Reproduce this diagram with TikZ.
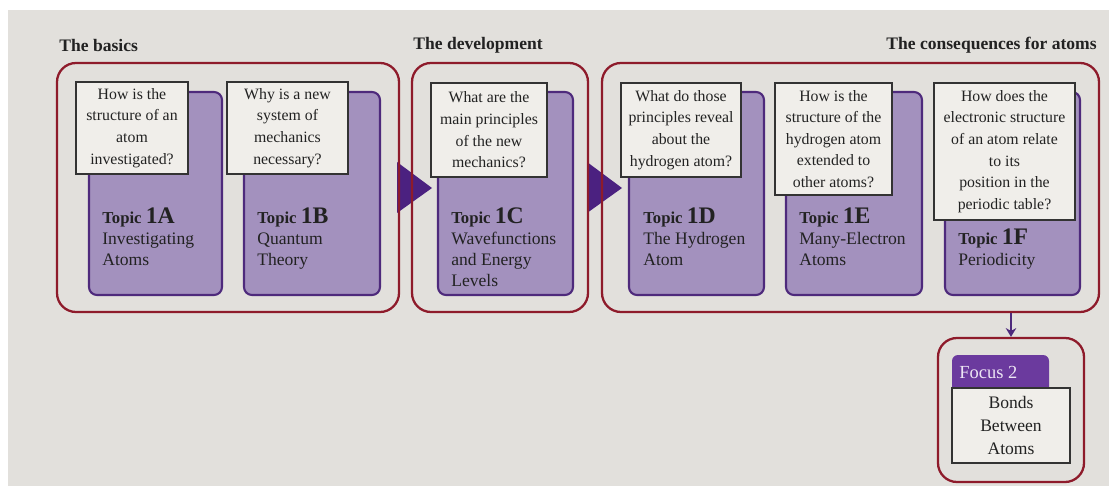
\documentclass[tikz,border=0pt]{standalone}
\usepackage{fontspec}
\setmainfont{Liberation Serif}
\usetikzlibrary{arrows.meta}
\definecolor{bg}{HTML}{E2E0DC}
\definecolor{groupred}{HTML}{8E1B2B}
\definecolor{topicfill}{HTML}{A391BE}
\definecolor{topicdraw}{HTML}{4E2A7C}
\definecolor{tricol}{HTML}{4B2180}
\definecolor{qfill}{HTML}{F0EEEA}
\definecolor{qdraw}{HTML}{333333}
\definecolor{focustab}{HTML}{6B3A9E}
\definecolor{focustext}{HTML}{EDE6F4}
\definecolor{txt}{HTML}{222222}
\newcommand\tlabel[1]{{\bfseries\fontsize{9.5}{12}\selectfont Topic \fontsize{13.5}{12}\selectfont #1}}
\begin{document}
\begin{tikzpicture}[x=0.02cm,y=-0.02cm,
  group/.style={draw=groupred, line width=1.3pt, rounded corners=0.38cm, rectangle, inner sep=0pt},
  topicbox/.style={draw=topicdraw, fill=topicfill, line width=1.2pt, rounded corners=0.16cm, rectangle, inner sep=0pt},
  qbox/.style={draw=qdraw, fill=qfill, line width=0.6pt, rectangle, align=center, inner sep=0pt,
    font=\fontsize{9}{12.3}\selectfont, text=txt},
  topictext/.style={align=left, anchor=north west, inner sep=0pt, font=\fontsize{10}{12}\selectfont, text=txt},
  heading/.style={font=\bfseries\fontsize{10}{12}\selectfont, inner sep=0pt, text=txt},
  tri/.style={fill=tricol},
  link/.style={draw=topicdraw, line width=0.8pt, -{Stealth[length=5pt,width=6pt]}}]
\useasboundingbox (0,0) rectangle (1109,486);
\fill[white] (0,0) rectangle (1109,486);
\fill[bg] (8,10) rectangle (1109,486);

% headings
\node[heading, anchor=west] (h1) at (59,45) {The basics};
\node[heading, anchor=west] (h2) at (413,45) {The development};
\node[heading, anchor=east] (h3) at (1097,45) {The consequences for atoms};

% triangles between groups
\fill[tri] (397,162) -- (432,188) -- (397,213) -- cycle;
\fill[tri] (587,162) -- (622,188) -- (587,213) -- cycle;

% groups
\node[group, minimum width=342*0.02cm, minimum height=249*0.02cm] (g1) at (228,187.5) {};
\node[group, minimum width=176*0.02cm, minimum height=249*0.02cm] (g2) at (500,187.5) {};
\node[group, minimum width=497*0.02cm, minimum height=249*0.02cm] (g3) at (850.5,187.5) {};
\node[group, minimum width=146*0.02cm, minimum height=144*0.02cm] (g4) at (1011,410) {};

% topic boxes
\node[topicbox, minimum width=133*0.02cm, minimum height=203*0.02cm] (t1a) at (155.5,193.5) {};
\node[topicbox, minimum width=136*0.02cm, minimum height=203*0.02cm] (t1b) at (312,193.5) {};
\node[topicbox, minimum width=135*0.02cm, minimum height=203*0.02cm] (t1c) at (505.5,193.5) {};
\node[topicbox, minimum width=135*0.02cm, minimum height=203*0.02cm] (t1d) at (696.5,193.5) {};
\node[topicbox, minimum width=136*0.02cm, minimum height=203*0.02cm] (t1e) at (854,193.5) {};
\node[topicbox, minimum width=135*0.02cm, minimum height=203*0.02cm] (t1f) at (1012.5,193.5) {};

% topic labels
\node[topictext] (l1a) at (102,207) {\tlabel{1A}\\Investigating\\Atoms};
\node[topictext] (l1b) at (257,207) {\tlabel{1B}\\Quantum\\Theory};
\node[topictext] (l1c) at (451,207) {\tlabel{1C}\\Wavefunctions\\and Energy\\Levels};
\node[topictext] (l1d) at (643,207) {\tlabel{1D}\\The Hydrogen\\Atom};
\node[topictext] (l1e) at (799,207) {\tlabel{1E}\\Many-Electron\\Atoms};
\node[topictext] (l1f) at (958,228) {\tlabel{1F}\\Periodicity};

% question boxes
\node[qbox, minimum width=112*0.02cm, minimum height=92*0.02cm] (q1a) at (132,128) {How is the\\structure of an\\atom\\investigated?};
\node[qbox, minimum width=121*0.02cm, minimum height=92*0.02cm] (q1b) at (287.5,128) {Why is a new\\system of\\mechanics\\necessary?};
\node[qbox, minimum width=116*0.02cm, minimum height=94*0.02cm] (q1c) at (489,130) {What are the\\main principles\\of the new\\mechanics?};
\node[qbox, minimum width=120*0.02cm, minimum height=94*0.02cm] (q1d) at (681,130) {What do those\\principles reveal\\about the\\hydrogen atom?};
\node[qbox, minimum width=117*0.02cm, minimum height=112*0.02cm] (q1e) at (833.5,139) {How is the\\structure of the\\hydrogen atom\\extended to\\other atoms?};
\node[qbox, minimum width=141*0.02cm, minimum height=137*0.02cm] (q1f) at (1004.5,151.5) {How does the\\electronic structure\\of an atom relate\\to its\\position in the\\periodic table?};

% focus box
\node[rectangle, fill=focustab, rounded corners=0.12cm, minimum width=97*0.02cm, minimum height=40*0.02cm, inner sep=0pt] (tab) at (1000.5,375) {};
\node[anchor=west, inner sep=0pt, text=focustext, font=\fontsize{10.5}{12}\selectfont] (tabtext) at (959,372) {Focus 2};
\node[qbox, minimum width=118*0.02cm, minimum height=75*0.02cm, font=\fontsize{10}{13}\selectfont] (bonds) at (1011,425.5) {Bonds\\Between\\Atoms};

% connector
\draw[link] (g3.south -| g4.north) -- (g4.north);
\end{tikzpicture}
\end{document}
